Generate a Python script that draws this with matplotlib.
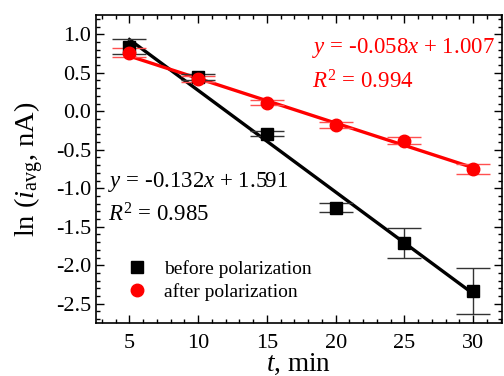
import matplotlib.pyplot as plt
from matplotlib.lines import Line2D
from matplotlib.ticker import MultipleLocator

plt.rcParams['font.family'] = ['Liberation Serif', 'DejaVu Serif']
plt.rcParams['mathtext.fontset'] = 'custom'
plt.rcParams['mathtext.rm'] = 'Liberation Serif'
plt.rcParams['mathtext.it'] = 'Liberation Serif:italic'

# datos
t = [5, 10, 15, 20, 25, 30]
before = [0.84, 0.44, -0.29, -1.25, -1.71, -2.33]
before_err = [0.10, 0.04, 0.03, 0.06, 0.19, 0.30]
after = [0.76, 0.42, 0.11, -0.18, -0.38, -0.75]
after_err = [0.06, 0.04, 0.03, 0.04, 0.05, 0.07]

# rectas de ajuste (extremos)
fit_t = [5, 30]
before_fit = [0.931, -2.369]
after_fit = [0.717, -0.733]

fig = plt.figure(figsize=(5.04, 3.76), dpi=100)
ax = fig.add_axes([0.190, 0.141, 0.806, 0.819])

ax.plot(fit_t, before_fit, color='black', lw=2.4, zorder=2)
ax.plot(fit_t, after_fit, color='#ff0000', lw=2.4, zorder=2)

ax.errorbar(t, before, yerr=before_err, fmt='s', color='black', ms=8,
            ecolor='#333333', elinewidth=1, capsize=12.5, capthick=1, zorder=3)
ax.errorbar(t, after, yerr=after_err, fmt='o', color='#ff0000', ms=9,
            ecolor='#ff5050', elinewidth=1, capsize=12.5, capthick=1, zorder=3)

ax.set_xlim(2.55, 32.1)
ax.set_ylim(-2.75, 1.25)
ax.xaxis.set_major_locator(MultipleLocator(5))
ax.xaxis.set_minor_locator(MultipleLocator(1))
ax.yaxis.set_major_locator(MultipleLocator(0.5))
ax.yaxis.set_minor_locator(MultipleLocator(0.1))
ax.yaxis.set_major_formatter(plt.FuncFormatter(lambda v, p: f'{v:.1f}'))
ax.tick_params(which='both', direction='in', top=True, right=True, labelsize=16)
ax.tick_params(which='major', length=6, width=1)
ax.tick_params(which='minor', length=3, width=1)
ax.tick_params(axis='x', pad=8)
for s in ax.spines.values():
    s.set_linewidth(1.2)

ax.set_xlabel(r'$\it{t}$, min', fontsize=19.5, labelpad=-1)
ax.set_ylabel(r'ln ($\it{i}_{\rm avg}$, nA)', fontsize=20.5, labelpad=7)

ax.text(0.030, 0.458, r'$y$ = -0.132$x$ + 1.591', transform=ax.transAxes,
        fontsize=16.5, va='center')
ax.text(0.030, 0.351, r'$R^2$ = 0.985', transform=ax.transAxes,
        fontsize=16.5, va='center')
ax.text(0.532, 0.893, r'$y$ = -0.058$x$ + 1.007', transform=ax.transAxes,
        fontsize=16.5, va='center', color='#ff0000')
ax.text(0.532, 0.782, r'$R^2$ = 0.994', transform=ax.transAxes,
        fontsize=16.5, va='center', color='#ff0000')

handles = [Line2D([], [], ls='none', marker='s', color='black', ms=8),
           Line2D([], [], ls='none', marker='o', color='#ff0000', ms=9)]
ax.legend(handles, ['before polarization', 'after polarization'],
          loc='lower left', bbox_to_anchor=(0.035, 0.015), frameon=False,
          fontsize=14, handletextpad=0.9, labelspacing=0.25, handlelength=1.0)

fig.savefig('out.png', dpi=100)
